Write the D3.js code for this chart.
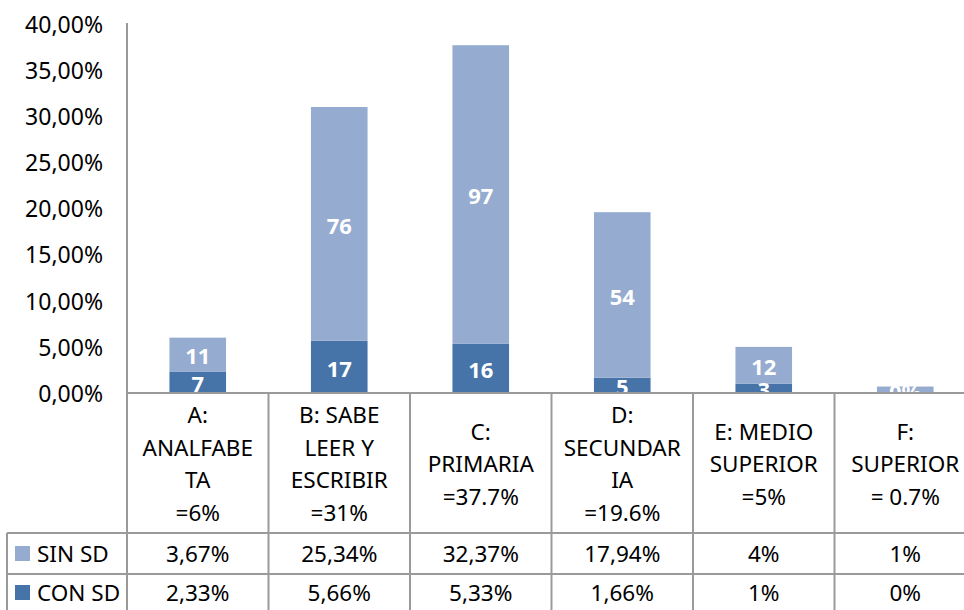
<html>
<head>
<script src="https://d3js.org/d3.v7.min.js"></script>
<style>
  body { margin: 0; background: #fff; }
  text { font-family: "Noto Sans", "Open Sans", sans-serif; }
</style>
</head>
<body>
<svg id="MAINSVG" width="964" height="610"></svg>
<script>
// categories (lines of header text for each column)
var categories = ["A", "B", "C", "D", "E", "F"];
var headerLines = [
  ["A:", "ANALFABE", "TA", "=6%"],
  ["B: SABE", "LEER Y", "ESCRIBIR", "=31%"],
  ["C:", "PRIMARIA", "=37.7%"],
  ["D:", "SECUNDAR", "IA", "=19.6%"],
  ["E: MEDIO", "SUPERIOR", "=5%"],
  ["F:", "SUPERIOR", "= 0.7%"]
];
// bar values in percent
var sinSD = [3.67, 25.34, 32.37, 17.94, 4, 0.7];
var conSD = [2.33, 5.66, 5.33, 1.66, 1, 0];
// labels written in the bars
var sinLabels = ["11", "76", "97", "54", "12", "0%"];
var conLabels = ["7", "17", "16", "5", "3", ""];
// values written in the table
var sinTable = ["3,67%", "25,34%", "32,37%", "17,94%", "4%", "1%"];
var conTable = ["2,33%", "5,66%", "5,33%", "1,66%", "1%", "0%"];
var seriesNames = ["SIN SD", "CON SD"];
var colors = ["#95abd0", "#4673a8"];
var yTicks = [0, 5, 10, 15, 20, 25, 30, 35, 40];

var SVG = d3.select("#MAINSVG");
var left = 127, base = 393, top_y = 24, step = 141.5;
var right = left + step * categories.length;

var x = d3.scaleBand().domain(categories).range([left, right])
  .paddingInner(0.6).paddingOuter(0.3);
var xCol = d3.scaleBand().domain(categories).range([left, right]).padding(0);
var y = d3.scaleLinear().domain([0, 40]).range([base, top_y]);

var loc = d3.formatLocale({decimal: ",", thousands: ".", grouping: [3], currency: ["", ""]});
var fmt = loc.format(".2f");

// y axis
var yAxis = SVG.append("g")
  .attr("transform", "translate(" + left + ",0)")
  .call(d3.axisLeft(y).tickValues(yTicks).tickSize(0).tickPadding(24)
    .tickFormat(function(d) { return fmt(d) + "%"; }));
yAxis.select(".domain").attr("stroke", "#868686").attr("stroke-width", 2)
  .attr("d", "M0," + (top_y - 1) + "V" + base);
yAxis.selectAll("text").attr("font-family", "Noto Sans").attr("font-size", 23)
  .attr("fill", "#000").attr("dy", "0.36em");

// clip for the plot area
SVG.append("clipPath").attr("id", "plotclip")
  .append("rect").attr("x", left).attr("y", 0).attr("width", right - left).attr("height", base);

var stackData = categories.map(function(c, i) {
  return {cat: c, con: conSD[i], sin: sinSD[i], conL: conLabels[i], sinL: sinLabels[i]};
});

var plot = SVG.append("g").attr("clip-path", "url(#plotclip)");

// CON SD (bottom)
plot.selectAll(".con").data(stackData).enter().append("rect")
  .attr("x", function(d) { return x(d.cat); })
  .attr("width", x.bandwidth())
  .attr("y", function(d) { return y(d.con); })
  .attr("height", function(d) { return y(0) - y(d.con); })
  .attr("fill", colors[1]);

// SIN SD (top)
plot.selectAll(".sin").data(stackData).enter().append("rect")
  .attr("x", function(d) { return x(d.cat); })
  .attr("width", x.bandwidth())
  .attr("y", function(d) { return y(d.con + d.sin); })
  .attr("height", function(d) { return y(d.con) - y(d.con + d.sin); })
  .attr("fill", colors[0]);

// data labels
plot.selectAll(".conl").data(stackData).enter().append("text")
  .attr("x", function(d) { return x(d.cat) + x.bandwidth() / 2; })
  .attr("y", function(d) { return (y(0) + y(d.con)) / 2 + 2; })
  .attr("dy", "0.36em").attr("text-anchor", "middle")
  .attr("font-size", 22).attr("font-weight", "bold").attr("fill", "#fff")
  .text(function(d) { return d.conL; });
plot.selectAll(".sinl").data(stackData).enter().append("text")
  .attr("x", function(d) { return x(d.cat) + x.bandwidth() / 2; })
  .attr("y", function(d) { return (y(d.con) + y(d.con + d.sin)) / 2 + 2; })
  .attr("dy", "0.36em").attr("text-anchor", "middle")
  .attr("font-size", 22).attr("font-weight", "bold").attr("fill", "#fff")
  .text(function(d) { return d.sinL; });

// table
var headBottom = 533, row2 = 574, row3 = 615;
var grid = SVG.append("g").attr("stroke", "#9a9a9a").attr("stroke-width", 2);
grid.append("line").attr("x1", left).attr("x2", right).attr("y1", base).attr("y2", base);
grid.append("line").attr("x1", 7).attr("x2", right).attr("y1", headBottom).attr("y2", headBottom);
grid.append("line").attr("x1", 7).attr("x2", right).attr("y1", row2).attr("y2", row2);
grid.append("line").attr("x1", 7).attr("x2", 7).attr("y1", headBottom).attr("y2", row3);
grid.selectAll(".vl").data(categories).enter().append("line")
  .attr("x1", function(d) { return xCol(d); }).attr("x2", function(d) { return xCol(d); })
  .attr("y1", function(d, i) { return i === 0 ? top_y - 1 : base; }).attr("y2", row3);
grid.append("line").attr("x1", right).attr("x2", right).attr("y1", base).attr("y2", row3);

// header text
var lineH = 32.5;
categories.forEach(function(c, i) {
  var lines = headerLines[i];
  var cy = (base + headBottom) / 2 + 1;
  var y0 = cy - (lines.length - 1) * lineH / 2;
  SVG.append("text")
    .attr("x", xCol(c) + xCol.bandwidth() / 2)
    .attr("text-anchor", "middle").attr("font-size", 22.5).attr("fill", "#000")
    .selectAll("tspan").data(lines).enter().append("tspan")
    .attr("x", xCol(c) + xCol.bandwidth() / 2)
    .attr("y", function(d, j) { return y0 + j * lineH; })
    .attr("dy", "0.36em")
    .text(function(d) { return d; });
});

// table rows
var rows = [sinTable, conTable];
var rowCenters = [(headBottom + row2) / 2, (row2 + row3) / 2 - 2];
rows.forEach(function(vals, r) {
  SVG.append("rect").attr("x", 15).attr("y", rowCenters[r] - 7.5)
    .attr("width", 15).attr("height", 15).attr("fill", colors[r]);
  SVG.append("text").attr("x", 37).attr("y", rowCenters[r]).attr("dy", "0.36em")
    .attr("font-size", 22.5).attr("fill", "#000").text(seriesNames[r]);
  SVG.selectAll(".rv" + r).data(vals).enter().append("text")
    .attr("x", function(d, i) { return xCol(categories[i]) + xCol.bandwidth() / 2; })
    .attr("y", rowCenters[r]).attr("dy", "0.36em")
    .attr("text-anchor", "middle").attr("font-size", 22.5).attr("fill", "#000")
    .text(function(d) { return d; });
});
</script>
</body>
</html>
